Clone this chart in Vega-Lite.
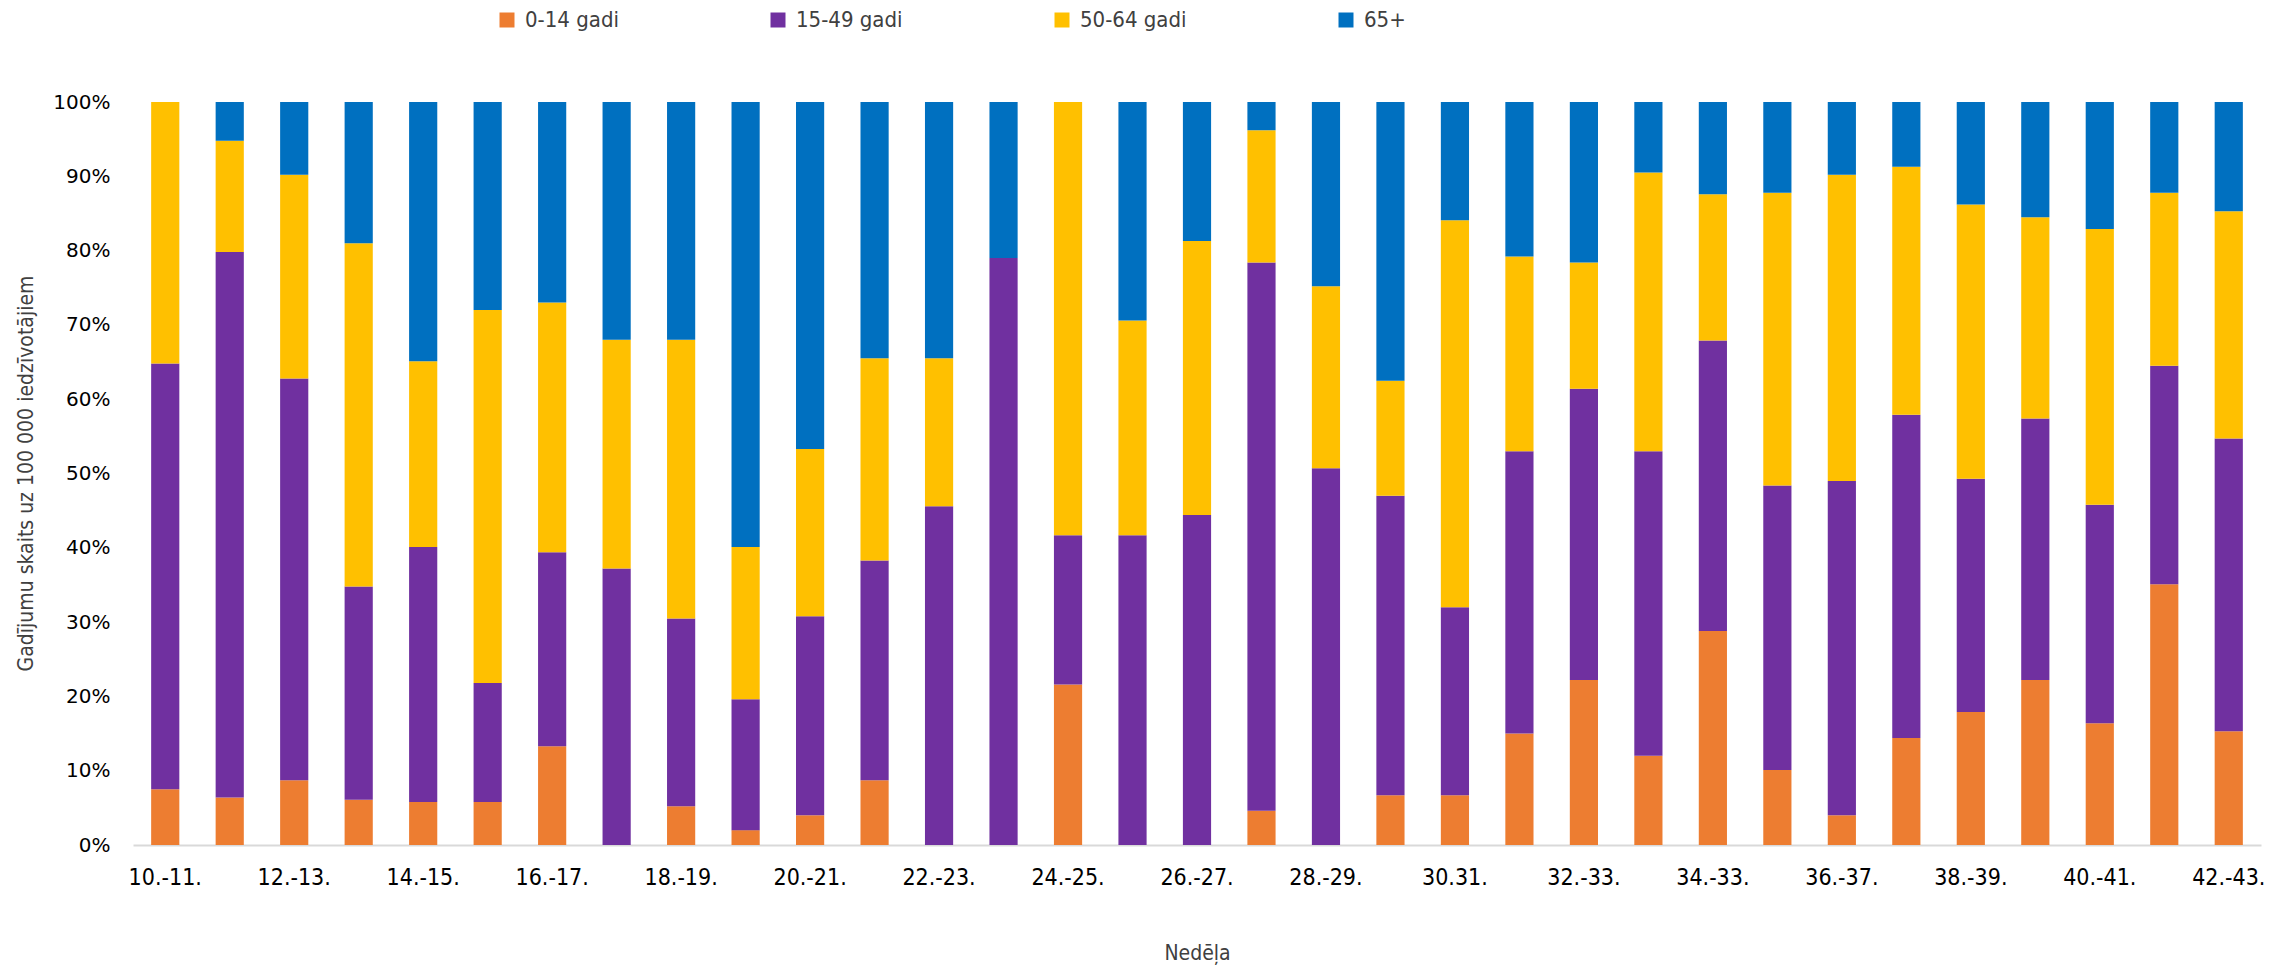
{
  "$schema": "https://vega.github.io/schema/vega-lite/v6.json",
  "autosize": {"type": "none"},
  "width": 2128,
  "height": 743,
  "padding": {"left": 133, "top": 102, "right": 34, "bottom": 121},
  "background": "white",
  "data": {"values": [
    {"week": "10.-11.", "group": "0-14 gadi", "value": 7.5},
    {"week": "10.-11.", "group": "15-49 gadi", "value": 57.3},
    {"week": "10.-11.", "group": "50-64 gadi", "value": 35.2},
    {"week": "11.-12.", "group": "0-14 gadi", "value": 6.4},
    {"week": "11.-12.", "group": "15-49 gadi", "value": 73.4},
    {"week": "11.-12.", "group": "50-64 gadi", "value": 15.0},
    {"week": "11.-12.", "group": "65+", "value": 5.2},
    {"week": "12.-13.", "group": "0-14 gadi", "value": 8.7},
    {"week": "12.-13.", "group": "15-49 gadi", "value": 54.1},
    {"week": "12.-13.", "group": "50-64 gadi", "value": 27.4},
    {"week": "12.-13.", "group": "65+", "value": 9.8},
    {"week": "13.-14.", "group": "0-14 gadi", "value": 6.1},
    {"week": "13.-14.", "group": "15-49 gadi", "value": 28.7},
    {"week": "13.-14.", "group": "50-64 gadi", "value": 46.2},
    {"week": "13.-14.", "group": "65+", "value": 19.0},
    {"week": "14.-15.", "group": "0-14 gadi", "value": 5.8},
    {"week": "14.-15.", "group": "15-49 gadi", "value": 34.3},
    {"week": "14.-15.", "group": "50-64 gadi", "value": 25.0},
    {"week": "14.-15.", "group": "65+", "value": 34.9},
    {"week": "15.-16.", "group": "0-14 gadi", "value": 5.8},
    {"week": "15.-16.", "group": "15-49 gadi", "value": 16.0},
    {"week": "15.-16.", "group": "50-64 gadi", "value": 50.2},
    {"week": "15.-16.", "group": "65+", "value": 28.0},
    {"week": "16.-17.", "group": "0-14 gadi", "value": 13.3},
    {"week": "16.-17.", "group": "15-49 gadi", "value": 26.1},
    {"week": "16.-17.", "group": "50-64 gadi", "value": 33.6},
    {"week": "16.-17.", "group": "65+", "value": 27.0},
    {"week": "17.-18.", "group": "15-49 gadi", "value": 37.2},
    {"week": "17.-18.", "group": "50-64 gadi", "value": 30.8},
    {"week": "17.-18.", "group": "65+", "value": 32.0},
    {"week": "18.-19.", "group": "0-14 gadi", "value": 5.2},
    {"week": "18.-19.", "group": "15-49 gadi", "value": 25.3},
    {"week": "18.-19.", "group": "50-64 gadi", "value": 37.5},
    {"week": "18.-19.", "group": "65+", "value": 32.0},
    {"week": "19.-20.", "group": "0-14 gadi", "value": 2.0},
    {"week": "19.-20.", "group": "15-49 gadi", "value": 17.6},
    {"week": "19.-20.", "group": "50-64 gadi", "value": 20.5},
    {"week": "19.-20.", "group": "65+", "value": 59.9},
    {"week": "20.-21.", "group": "0-14 gadi", "value": 4.0},
    {"week": "20.-21.", "group": "15-49 gadi", "value": 26.8},
    {"week": "20.-21.", "group": "50-64 gadi", "value": 22.5},
    {"week": "20.-21.", "group": "65+", "value": 46.7},
    {"week": "21.-22.", "group": "0-14 gadi", "value": 8.7},
    {"week": "21.-22.", "group": "15-49 gadi", "value": 29.6},
    {"week": "21.-22.", "group": "50-64 gadi", "value": 27.2},
    {"week": "21.-22.", "group": "65+", "value": 34.5},
    {"week": "22.-23.", "group": "15-49 gadi", "value": 45.6},
    {"week": "22.-23.", "group": "50-64 gadi", "value": 19.9},
    {"week": "22.-23.", "group": "65+", "value": 34.5},
    {"week": "23.-24.", "group": "15-49 gadi", "value": 79.0},
    {"week": "23.-24.", "group": "65+", "value": 21.0},
    {"week": "24.-25.", "group": "0-14 gadi", "value": 21.6},
    {"week": "24.-25.", "group": "15-49 gadi", "value": 20.1},
    {"week": "24.-25.", "group": "50-64 gadi", "value": 58.3},
    {"week": "25.-26.", "group": "15-49 gadi", "value": 41.7},
    {"week": "25.-26.", "group": "50-64 gadi", "value": 28.9},
    {"week": "25.-26.", "group": "65+", "value": 29.4},
    {"week": "26.-27.", "group": "15-49 gadi", "value": 44.4},
    {"week": "26.-27.", "group": "50-64 gadi", "value": 36.9},
    {"week": "26.-27.", "group": "65+", "value": 18.7},
    {"week": "27.-28.", "group": "0-14 gadi", "value": 4.6},
    {"week": "27.-28.", "group": "15-49 gadi", "value": 73.8},
    {"week": "27.-28.", "group": "50-64 gadi", "value": 17.8},
    {"week": "27.-28.", "group": "65+", "value": 3.8},
    {"week": "28.-29.", "group": "15-49 gadi", "value": 50.7},
    {"week": "28.-29.", "group": "50-64 gadi", "value": 24.5},
    {"week": "28.-29.", "group": "65+", "value": 24.8},
    {"week": "29.-30.", "group": "0-14 gadi", "value": 6.7},
    {"week": "29.-30.", "group": "15-49 gadi", "value": 40.3},
    {"week": "29.-30.", "group": "50-64 gadi", "value": 15.5},
    {"week": "29.-30.", "group": "65+", "value": 37.5},
    {"week": "30.31.", "group": "0-14 gadi", "value": 6.7},
    {"week": "30.31.", "group": "15-49 gadi", "value": 25.3},
    {"week": "30.31.", "group": "50-64 gadi", "value": 52.1},
    {"week": "30.31.", "group": "65+", "value": 15.9},
    {"week": "31.-32.", "group": "0-14 gadi", "value": 15.0},
    {"week": "31.-32.", "group": "15-49 gadi", "value": 38.0},
    {"week": "31.-32.", "group": "50-64 gadi", "value": 26.2},
    {"week": "31.-32.", "group": "65+", "value": 20.8},
    {"week": "32.-33.", "group": "0-14 gadi", "value": 22.2},
    {"week": "32.-33.", "group": "15-49 gadi", "value": 39.2},
    {"week": "32.-33.", "group": "50-64 gadi", "value": 17.0},
    {"week": "32.-33.", "group": "65+", "value": 21.6},
    {"week": "33.-34.", "group": "0-14 gadi", "value": 12.0},
    {"week": "33.-34.", "group": "15-49 gadi", "value": 41.0},
    {"week": "33.-34.", "group": "50-64 gadi", "value": 37.5},
    {"week": "33.-34.", "group": "65+", "value": 9.5},
    {"week": "34.-33.", "group": "0-14 gadi", "value": 28.8},
    {"week": "34.-33.", "group": "15-49 gadi", "value": 39.1},
    {"week": "34.-33.", "group": "50-64 gadi", "value": 19.7},
    {"week": "34.-33.", "group": "65+", "value": 12.4},
    {"week": "35.-36.", "group": "0-14 gadi", "value": 10.1},
    {"week": "35.-36.", "group": "15-49 gadi", "value": 38.3},
    {"week": "35.-36.", "group": "50-64 gadi", "value": 39.4},
    {"week": "35.-36.", "group": "65+", "value": 12.2},
    {"week": "36.-37.", "group": "0-14 gadi", "value": 4.0},
    {"week": "36.-37.", "group": "15-49 gadi", "value": 45.0},
    {"week": "36.-37.", "group": "50-64 gadi", "value": 41.2},
    {"week": "36.-37.", "group": "65+", "value": 9.8},
    {"week": "37.-38.", "group": "0-14 gadi", "value": 14.4},
    {"week": "37.-38.", "group": "15-49 gadi", "value": 43.5},
    {"week": "37.-38.", "group": "50-64 gadi", "value": 33.4},
    {"week": "37.-38.", "group": "65+", "value": 8.7},
    {"week": "38.-39.", "group": "0-14 gadi", "value": 17.9},
    {"week": "38.-39.", "group": "15-49 gadi", "value": 31.4},
    {"week": "38.-39.", "group": "50-64 gadi", "value": 36.9},
    {"week": "38.-39.", "group": "65+", "value": 13.8},
    {"week": "39.-40.", "group": "0-14 gadi", "value": 22.2},
    {"week": "39.-40.", "group": "15-49 gadi", "value": 35.2},
    {"week": "39.-40.", "group": "50-64 gadi", "value": 27.1},
    {"week": "39.-40.", "group": "65+", "value": 15.5},
    {"week": "40.-41.", "group": "0-14 gadi", "value": 16.4},
    {"week": "40.-41.", "group": "15-49 gadi", "value": 29.4},
    {"week": "40.-41.", "group": "50-64 gadi", "value": 37.1},
    {"week": "40.-41.", "group": "65+", "value": 17.1},
    {"week": "41.-42.", "group": "0-14 gadi", "value": 35.1},
    {"week": "41.-42.", "group": "15-49 gadi", "value": 29.4},
    {"week": "41.-42.", "group": "50-64 gadi", "value": 23.3},
    {"week": "41.-42.", "group": "65+", "value": 12.2},
    {"week": "42.-43.", "group": "0-14 gadi", "value": 15.3},
    {"week": "42.-43.", "group": "15-49 gadi", "value": 39.4},
    {"week": "42.-43.", "group": "50-64 gadi", "value": 30.6},
    {"week": "42.-43.", "group": "65+", "value": 14.7}
  ]},
  "mark": {"type": "bar"},
  "encoding": {
    "x": {
      "field": "week",
      "type": "nominal",
      "sort": null,
      "scale": {"paddingInner": 0.563, "paddingOuter": 0.2815},
      "axis": {
        "title": "Nedēļa",
        "titleFont": "DejaVu Sans Condensed, Liberation Sans, sans-serif",
        "titleFontSize": 21,
        "titleFontWeight": "normal",
        "titleColor": "#404040",
        "titleBaseline": "middle",
        "titleY": 108,
        "labelAngle": 0,
        "labelFont": "DejaVu Sans Condensed, Liberation Sans, sans-serif",
        "labelFontSize": 23,
        "labelColor": "#000000",
        "labelPadding": 21,
        "ticks": false,
        "domainColor": "#D9D9D9",
        "domainWidth": 2,
        "values": ["10.-11.", "12.-13.", "14.-15.", "16.-17.", "18.-19.", "20.-21.", "22.-23.", "24.-25.", "26.-27.", "28.-29.", "30.31.", "32.-33.", "34.-33.", "36.-37.", "38.-39.", "40.-41.", "42.-43."]
      }
    },
    "y": {
      "field": "value",
      "type": "quantitative",
      "stack": "normalize",
      "scale": {"domain": [0, 1], "nice": false},
      "axis": {
        "title": "Gadījumu skaits uz 100 000 iedzīvotājiem",
        "titleFont": "DejaVu Sans Condensed, Liberation Sans, sans-serif",
        "titleFontSize": 21,
        "titleFontWeight": "normal",
        "titleColor": "#404040",
        "titleAngle": -90,
        "titleBaseline": "middle",
        "titleX": -107,
        "titleY": 371,
        "values": [0, 0.1, 0.2, 0.3, 0.4, 0.5, 0.6, 0.7, 0.8, 0.9, 1],
        "format": ".0%",
        "labelFont": "DejaVu Sans",
        "labelFontSize": 20,
        "labelColor": "#000000",
        "labelPadding": 23,
        "ticks": false,
        "domain": false,
        "grid": false
      }
    },
    "color": {
      "field": "group",
      "type": "nominal",
      "scale": {
        "domain": ["0-14 gadi", "15-49 gadi", "50-64 gadi", "65+"],
        "range": ["#ED7D31", "#7030A0", "#FFC000", "#0070C0"]
      },
      "legend": {
        "title": null,
        "orient": "none",
        "direction": "horizontal",
        "legendX": 363,
        "legendY": -93,
        "symbolType": "square",
        "symbolSize": 225,
        "symbolStrokeWidth": 0,
        "labelFont": "DejaVu Sans Condensed, Liberation Sans, sans-serif",
        "labelFontSize": 22,
        "labelColor": "#404040",
        "labelOffset": 7,
        "columnPadding": 148
      }
    },
    "order": {"field": "group", "sort": "ascending"}
  },
  "config": {"view": {"stroke": null}}
}
